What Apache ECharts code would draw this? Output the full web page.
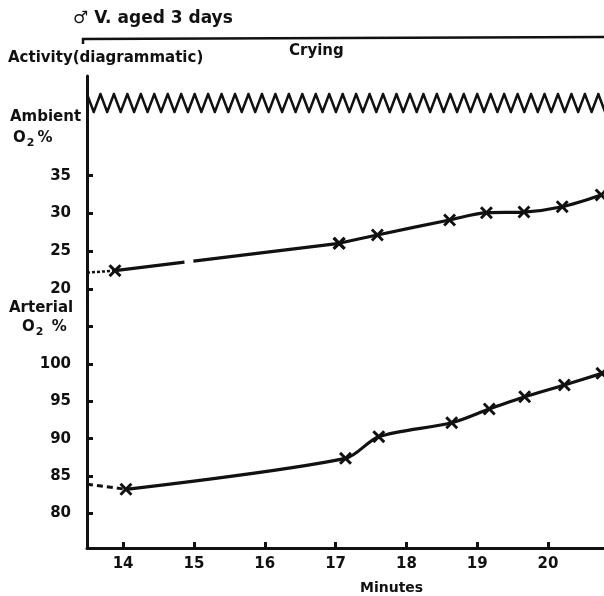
<!DOCTYPE html>
<html>
<head>
<meta charset="utf-8">
<script src="https://cdn.jsdelivr.net/npm/echarts@6/dist/echarts.min.js"></script>
<style>
  html, body { margin: 0; padding: 0; background: #fff; }
  #chart { width: 604px; height: 596px; }
</style>
</head>
<body>
<div id="chart"></div>
<script>
// minutes axis
const minuteTicks = [14, 15, 16, 17, 18, 19, 20]
const minuteRange = [13.49, 20.79]

// ambient O2 %
const ambientTicks = [20, 25, 30, 35]
const ambientLeadIn = 22.2 // dotted line from the axis
const ambientMinutes = [13.885, 17.05, 17.59, 18.61, 19.13, 19.66, 20.2, 20.75]
const ambientO2 = [22.45, 26.07, 27.17, 29.15, 30.11, 30.2, 30.9, 32.45]

// arterial O2 %
const arterialTicks = [80, 85, 90, 95, 100, 105]
const arterialLabels = [80, 85, 90, 95, 100]
const arterialLeadIn = 83.9 // dashed line from the axis
const arterialMinutes = [14.04, 17.14, 17.61, 18.64, 19.17, 19.67, 20.23, 20.76]
const arterialO2 = [83.23, 87.37, 90.27, 92.14, 93.98, 95.62, 97.19, 98.75]

// activity (diagrammatic) - crying all through
const zigzagPeriod = 0.19 // minutes per tooth

const ink = '#111'
const font = '"DejaVu Sans", sans-serif'
const crossMark = 'path://M0,1.6L1.6,0L5,3.4L8.4,0L10,1.6L6.6,5L10,8.4L8.4,10L5,6.6L1.6,10L0,8.4L3.4,5Z'

const zip = (xs, ys) => xs.map((x, i) => [x, ys[i]])

const zigzag = []
for (let t = minuteRange[0], k = 0; t <= minuteRange[1] + zigzagPeriod; t += zigzagPeriod / 2, k++) {
  zigzag.push([t, k % 2 === 0 ? 1 : 0])
}

const chart = echarts.init(document.getElementById('chart'))

const xAxisBase = (gridIndex, show) => ({
  type: 'value',
  gridIndex: gridIndex,
  min: minuteRange[0],
  max: minuteRange[1],
  show: show,
  splitLine: { show: false },
  axisLine: { show: show, lineStyle: { color: ink, width: 3 } },
  axisTick: {
    show: show,
    inside: true,
    length: 6,
    customValues: minuteTicks,
    lineStyle: { color: ink, width: 3 }
  },
  axisLabel: {
    show: show,
    customValues: minuteTicks,
    margin: 9,
    color: ink,
    fontFamily: font,
    fontWeight: 'bold',
    fontSize: 15
  }
})

const yAxisBase = (gridIndex, min, max, ticks, labels) => ({
  type: 'value',
  gridIndex: gridIndex,
  min: min,
  max: max,
  splitLine: { show: false },
  axisLine: { show: true, lineStyle: { color: ink, width: 3 } },
  axisTick: {
    show: true,
    inside: true,
    length: 6,
    customValues: ticks,
    lineStyle: { color: ink, width: 3 }
  },
  axisLabel: {
    customValues: labels,
    margin: 16,
    color: ink,
    fontFamily: font,
    fontWeight: 'bold',
    fontSize: 15
  }
})

const lineBase = {
  type: 'line',
  symbol: crossMark,
  symbolSize: 13,
  itemStyle: { color: ink },
  lineStyle: { color: ink, width: 3.2 },
  animation: false,
  z: 3
}

const subO2 = {
  o: { fontFamily: font, fontWeight: 'bold', fontSize: 15, fill: ink, lineHeight: 18 },
  s: { fontFamily: font, fontWeight: 'bold', fontSize: 11, fill: ink, padding: [9, 3, 0, 1] }
}

const option = {
  backgroundColor: '#fff',
  animation: false,
  grid: [
    { left: 87, right: 0, top: 76, height: 224 }, // ambient
    { left: 87, right: 0, top: 300, height: 248 }, // arterial
    { left: 87, right: 0, top: 94, height: 18 } // activity
  ],
  xAxis: [xAxisBase(0, false), xAxisBase(1, true), xAxisBase(2, false)],
  yAxis: [
    yAxisBase(0, 18.58, 48.17, ambientTicks, ambientTicks),
    yAxisBase(1, 75.37, 108.57, arterialTicks, arterialLabels),
    { type: 'value', gridIndex: 2, min: 0, max: 1, show: false }
  ],
  graphic: [
    {
      type: 'text', left: 73, top: 10,
      style: { text: '♂ V. aged 3 days', fontFamily: font, fontWeight: 'bold', fontSize: 17, fill: ink }
    },
    {
      type: 'polyline',
      shape: { points: [[83, 44], [83, 39], [604, 37]] },
      style: { stroke: ink, lineWidth: 2.5, fill: null }
    },
    {
      type: 'text', left: 8, top: 51,
      style: { text: 'Activity(diagrammatic)', fontFamily: font, fontWeight: 'bold', fontSize: 15, fill: ink }
    },
    {
      type: 'text', left: 289, top: 44,
      style: { text: 'Crying', fontFamily: font, fontWeight: 'bold', fontSize: 15, fill: ink }
    },
    {
      type: 'text', left: 10, top: 110,
      style: { text: 'Ambient', fontFamily: font, fontWeight: 'bold', fontSize: 15, fill: ink }
    },
    {
      type: 'text', left: 13, top: 131,
      style: { text: '{o|O}{s|2}{o|%}', rich: subO2 }
    },
    {
      type: 'text', left: 9, top: 301,
      style: { text: 'Arterial', fontFamily: font, fontWeight: 'bold', fontSize: 15, fill: ink }
    },
    {
      type: 'text', left: 22, top: 320,
      style: { text: '{o|O}{s|2}{o| %}', rich: subO2 }
    },
    {
      type: 'text', left: 360, top: 581,
      style: { text: 'Minutes', fontFamily: font, fontWeight: 'bold', fontSize: 14, fill: ink }
    }
  ],
  series: [
    // ambient: dotted lead-in from the axis
    Object.assign({}, lineBase, {
      xAxisIndex: 0, yAxisIndex: 0,
      symbol: 'none',
      lineStyle: { color: ink, width: 2.5, type: [3, 2] },
      data: [[minuteRange[0], ambientLeadIn], [ambientMinutes[0], ambientO2[0]]]
    }),
    // ambient: first segment, broken once
    Object.assign({}, lineBase, {
      xAxisIndex: 0, yAxisIndex: 0,
      lineStyle: { color: ink, width: 3.2, type: [70, 9, 400] },
      data: zip(ambientMinutes.slice(0, 2), ambientO2.slice(0, 2))
    }),
    Object.assign({}, lineBase, {
      xAxisIndex: 0, yAxisIndex: 0,
      smooth: 0.3,
      data: zip(ambientMinutes.slice(1), ambientO2.slice(1))
    }),
    // arterial: dashed lead-in
    Object.assign({}, lineBase, {
      xAxisIndex: 1, yAxisIndex: 1,
      symbol: 'none',
      lineStyle: { color: ink, width: 3, type: [6, 4] },
      data: [[minuteRange[0], arterialLeadIn], [arterialMinutes[0], arterialO2[0]]]
    }),
    Object.assign({}, lineBase, {
      xAxisIndex: 1, yAxisIndex: 1,
      smooth: 0.3,
      data: zip(arterialMinutes, arterialO2)
    }),
    // activity zigzag
    {
      type: 'line',
      xAxisIndex: 2, yAxisIndex: 2,
      symbol: 'none',
      lineStyle: { color: ink, width: 2.5, join: 'miter' },
      data: zigzag,
      animation: false
    }
  ]
}

chart.setOption(option)
</script>
</body>
</html>
